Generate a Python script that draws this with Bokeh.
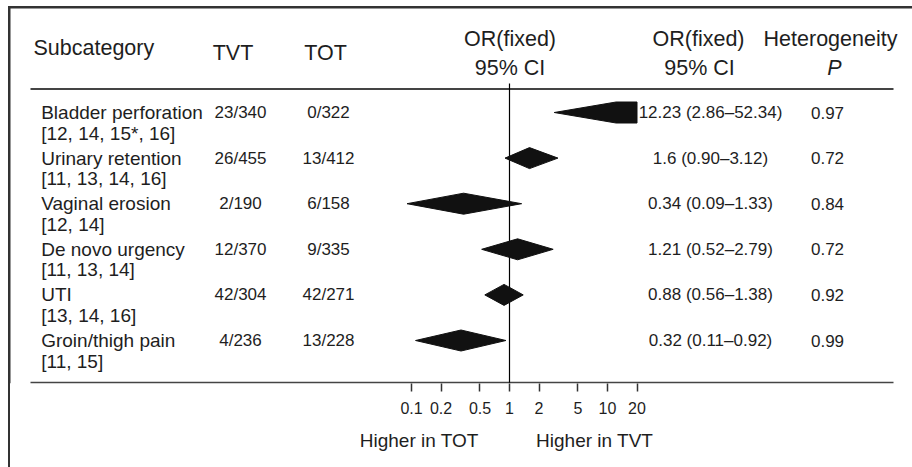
from bokeh.plotting import figure
from bokeh.models import Range1d, LogScale, LogAxis, FixedTicker, ColumnDataSource
from bokeh.core.properties import value
from bokeh.embed import file_html
from bokeh.resources import INLINE

# ---------------- data ----------------
subcats = ["Bladder perforation", "Urinary retention", "Vaginal erosion",
           "De novo urgency", "UTI", "Groin/thigh pain"]
refs = ["[12, 14, 15*, 16]", "[11, 13, 14, 16]", "[12, 14]",
        "[11, 13, 14]", "[13, 14, 16]", "[11, 15]"]
tvt = ["23/340", "26/455", "2/190", "12/370", "42/304", "4/236"]
tot = ["0/322", "13/412", "6/158", "9/335", "42/271", "13/228"]
or_est = [12.23, 1.6, 0.34, 1.21, 0.88, 0.32]
ci_lo = [2.86, 0.90, 0.09, 0.52, 0.56, 0.11]
ci_hi = [52.34, 3.12, 1.33, 2.79, 1.38, 0.92]
het_p = ["0.97", "0.72", "0.84", "0.72", "0.92", "0.99"]
ticks = [0.1, 0.2, 0.5, 1, 2, 5, 10, 20]
side_labels = ["Higher in TOT", "Higher in TVT"]
side_label_at = [0.12, 7.4]

# ---------------- layout constants (data units = pixels) ----------------
W, H = 912, 467
FRAME_B = 383          # bottom of the plotting frame
ONE_X = 509.0          # x of OR = 1
PX_DEC = 98.0          # pixels per decade
FONT_NAME = "Liberation Sans"
FONT = value(FONT_NAME)
TXT = "#1e1e1e"
BOX = "#333333"

box_css = """
:host::after {
  content: "";
  position: absolute;
  left: 8px; top: 6px;
  width: 902px; height: 459px;
  border-left: 2px solid #333333;
  border-top: 2px solid #333333;
  pointer-events: none;
}
"""

p = figure(width=W, height=H, output_backend="svg", toolbar_location=None,
           x_range=Range1d(0, W), y_range=Range1d(FRAME_B, 0),
           x_axis_type=None, y_axis_type=None,
           min_border_left=0, min_border_right=0, min_border_top=0,
           min_border_bottom=H - FRAME_B, stylesheets=[box_css])
p.outline_line_color = None
p.background_fill_color = "white"
p.border_fill_color = "white"

p.extra_x_ranges = {"or": Range1d(10 ** ((0 - ONE_X) / PX_DEC), 10 ** ((W - ONE_X) / PX_DEC))}
p.extra_x_scales = {"or": LogScale()}

# rows
n = len(subcats)
y_main = [112 + 45.6 * i for i in range(n)]
y_sub = [y + 20.5 for y in y_main]

or_txt = [f"{e:g} ({l:.2f}\u2013{h:.2f})" for e, l, h in zip(or_est, ci_lo, ci_hi)]

src = ColumnDataSource(dict(sub=subcats, ref=refs, tvt=tvt, tot=tot, ortxt=or_txt,
                            het=het_p, y=y_main, ys=y_sub))

common = dict(source=src, text_font=FONT, text_color=TXT, text_baseline="middle")
p.text(x=40.7, y="y", text="sub", text_align="left", text_font_size="19px", **common)
p.text(x=40.7, y="ys", text="ref", text_align="left", text_font_size="19px", **common)
p.text(x=240, y="y", text="tvt", text_align="center", text_font_size="17px", **common)
p.text(x=328, y="y", text="tot", text_align="center", text_font_size="17px", **common)
p.text(x=710, y="y", text="ortxt", text_align="center", text_font_size="17px", **common)
p.text(x=827, y="y", text="het", text_align="center", text_font_size="17px", **common)

# headers
hdr = dict(text_font=FONT, text_color=TXT, text_baseline="alphabetic", text_font_size="21.5px")
p.text(x=[33], y=[47], text=["Subcategory"], text_align="left", **hdr)
p.text(x=[232.5, 325], y=[52, 52], text=["TVT", "TOT"], text_align="center", **hdr)
p.text(x=[509.5, 509.5, 698, 699, 830], y=[38, 67, 38, 67, 38],
       text=["OR(fixed)", "95% CI", "OR(fixed)", "95% CI", "Heterogeneity"],
       text_align="center", **hdr)
p.text(x=[834], y=[67], text=["P"], text_align="center", text_font_style="italic", **hdr)

# rules
p.segment(x0=[30, 30], y0=[88.5, 382.2], x1=[893, 893], y1=[88.5, 382.2],
          line_color="#444444", line_width=1.8)
# outer box (top + left), also drawn by the stylesheet below the frame
p.segment(x0=[8, 9], y0=[7, 6], x1=[W, 9], y1=[7, FRAME_B], line_color=BOX, line_width=2)

# vertical line at OR = 1
p.segment(x0=[1], y0=[83], x1=[1], y1=[382.2], x_range_name="or",
          line_color="black", line_width=1.2)

# diamonds (clipped at the axis limit)
xmax = ticks[-1]
half = 10.5
xs, ys = [], []
for e, l, h, y in zip(or_est, ci_lo, ci_hi, y_main):
    if h > xmax:
        xs.append([l, e, xmax, xmax, e])
        ys.append([y, y - half, y - half, y + half, y + half])
    else:
        xs.append([l, e, h, e])
        ys.append([y, y - half, y, y + half])
p.patches(xs=xs, ys=ys, x_range_name="or", fill_color="#111111", line_color="#111111",
          line_width=1)

# axes
ax = LogAxis(x_range_name="or", ticker=FixedTicker(ticks=ticks),
             major_label_overrides={t: f"{t:g}" for t in ticks},
             axis_line_color=None, major_tick_out=8, major_tick_in=0,
             minor_tick_out=0, minor_tick_in=0,
             major_tick_line_color="#333333", major_tick_line_width=1.5,
             major_label_standoff=10, major_label_text_font=FONT_NAME,
             major_label_text_font_size="16px", major_label_text_color=TXT)
ax2 = LogAxis(x_range_name="or", ticker=FixedTicker(ticks=side_label_at),
              major_label_overrides={t: s for t, s in zip(side_label_at, side_labels)},
              axis_line_color=None, major_tick_out=0, major_tick_in=0,
              minor_tick_out=0, minor_tick_in=0, major_tick_line_color=None,
              major_label_standoff=13, major_label_text_font=FONT_NAME,
              major_label_text_font_size="19px", major_label_text_color=TXT)
p.add_layout(ax, "below")
p.add_layout(ax2, "below")

open("out.html", "w").write(file_html(p, INLINE))
